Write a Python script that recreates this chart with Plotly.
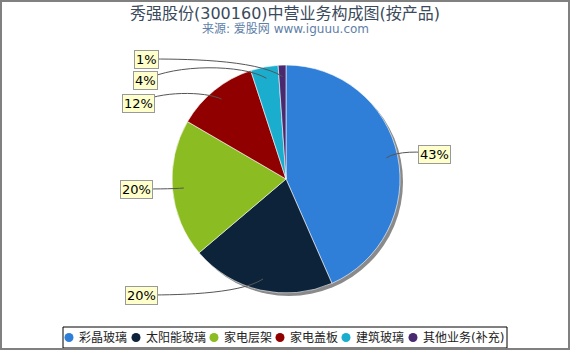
import math
import plotly.graph_objects as go

# ---- data ----
categories = ["彩晶玻璃", "太阳能玻璃", "家电层架", "家电盖板", "建筑玻璃", "其他业务(补充)"]
values = [43.4, 20.4, 19.6, 11.6, 3.9, 1.1]
colors = ["#2f7ed8", "#0d233a", "#8bbc21", "#910000", "#1aadce", "#492970"]
title_text = "秀强股份(300160)中营业务构成图(按产品)"
subtitle_text = "来源: 爱股网 www.iguuu.com"

# ---- layout constants (pixels) ----
W, H = 570, 350
CX, CY, R = 286, 179, 114
label_pos = [(434, 154), (141, 295), (136, 189), (138, 103), (145, 80), (146, 59)]
connector_lift = [3, 0, 0, 12, 16, 0]
legend_x = [69, 136, 214, 280, 346, 413]
LEG_Y = 337.5
FONT = "DejaVu Sans, Noto Sans CJK SC, sans-serif"


def dom(cx, cy, r):
    return dict(x=[(cx - r) / W, (cx + r) / W], y=[1 - (cy + r) / H, 1 - (cy - r) / H])


fig = go.Figure()
# shadow
fig.add_trace(go.Pie(values=[1], marker=dict(colors=["#8a8a8a"]), domain=dom(CX + 3, CY + 3, R),
                     textinfo="none", hoverinfo="skip", sort=False, showlegend=False))
fig.add_trace(go.Pie(labels=categories, values=values, marker=dict(colors=colors, line=dict(color="#ffffff", width=0.6)),
                     domain=dom(CX, CY, R), sort=False, direction="clockwise", rotation=0,
                     textinfo="none", showlegend=False))
# legend markers
fig.add_trace(go.Scatter(x=legend_x, y=[LEG_Y] * len(legend_x), mode="markers",
                         marker=dict(color=colors, size=9), hoverinfo="skip", showlegend=False))

annotations = []
shapes = []
total = sum(values)
cum = 0.0
for i, v in enumerate(values):
    theta = 2 * math.pi * (cum + v / 2) / total
    cum += v
    px = CX + 0.9 * R * math.sin(theta)
    py = CY - 0.9 * R * math.cos(theta)
    lx, ly = label_pos[i]
    dx = px - lx
    yc = ly - connector_lift[i]
    path = (f"M {lx},{ly} C {lx + 0.25 * dx},{yc} {px - 0.2 * dx},{yc} {px},{py}")
    shapes.append(dict(type="path", xref="x", yref="y", path=path, line=dict(color="#555555", width=1)))
    annotations.append(dict(x=lx, y=ly, xref="x", yref="y",
                            text=f"{round(v / total * 100)}%", showarrow=False,
                            font=dict(family=FONT, size=13, color="#000000"),
                            bgcolor="#ffffcc", bordercolor="#999999", borderwidth=1, borderpad=1))
    annotations.append(dict(x=legend_x[i] + 8, y=LEG_Y, xref="x", yref="y", xanchor="left", yanchor="middle",
                            text=categories[i], showarrow=False, font=dict(family=FONT, size=12, color="#222222")))

annotations.append(dict(x=285, y=13, xref="x", yref="y", text=title_text, showarrow=False,
                        font=dict(family=FONT, size=16, color="#3b4a5c")))
annotations.append(dict(x=285, y=29, xref="x", yref="y", text=subtitle_text, showarrow=False,
                        font=dict(family=FONT, size=12, color="#6080a8")))

shapes.append(dict(type="rect", xref="x", yref="y", x0=63, x1=507, y0=327, y1=348,
                   line=dict(color="#000000", width=1)))
shapes.append(dict(type="rect", xref="x", yref="y", x0=1, x1=569, y0=1, y1=349,
                   line=dict(color="#808080", width=2)))

fig.update_layout(
    width=W, height=H, margin=dict(l=0, r=0, t=0, b=0),
    paper_bgcolor="#ffffff", plot_bgcolor="rgba(0,0,0,0)",
    xaxis=dict(range=[0, W], visible=False, fixedrange=True, domain=[0, 1]),
    yaxis=dict(range=[H, 0], visible=False, fixedrange=True, domain=[0, 1]),
    annotations=annotations, shapes=shapes, showlegend=False,
    font=dict(family=FONT),
)

fig.write_html("out.html")
